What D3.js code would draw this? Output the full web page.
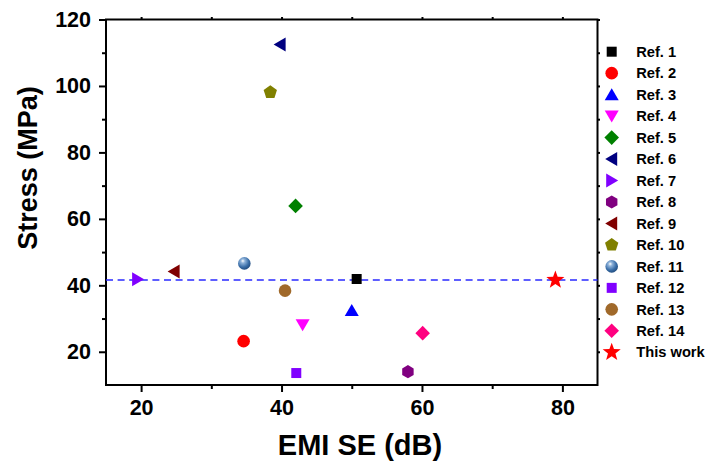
<!DOCTYPE html>
<html>
<head>
<meta charset="utf-8">
<script src="https://cdn.jsdelivr.net/npm/d3@7"></script>
<style>
  html, body { margin: 0; padding: 0; background: #fff; }
  svg { display: block; font-family: "Liberation Sans", Arial, sans-serif; font-weight: bold; }
</style>
</head>
<body>
<svg id="chart" width="709" height="463"></svg>
<script>
// Series labels, values and marker styling
const refs   = ["Ref. 1", "Ref. 2", "Ref. 3", "Ref. 4", "Ref. 5", "Ref. 6", "Ref. 7",
                "Ref. 8", "Ref. 9", "Ref. 10", "Ref. 11", "Ref. 12", "Ref. 13", "Ref. 14", "This work"];
const emiSE  = [50.7, 34.6, 50.0, 43.0, 42.0, 39.8, 19.5, 58.0, 24.7, 38.4, 34.7, 42.1, 40.5, 60.1, 79.0];
const stress = [41.9, 23.2, 32.4, 28.1, 63.9, 112.5, 41.85, 14.0, 44.15, 98.1, 46.6, 13.6, 38.4, 25.6, 41.6];
const colors = ["#000000", "#ff0000", "#0000ff", "#ff00ff", "#008000", "#000080", "#8000ff",
                "#800080", "#800000", "#808000", "#3a6ea8", "#8000ff", "#a0692a", "#ff0080", "#ff0000"];
const shapes = ["square", "circle", "triUp", "triDown", "diamond", "triLeft", "triRight",
                "hexagon", "triLeft", "pentagon", "ball", "square", "circle", "diamond", "star"];

const refLine = 41.6;               // horizontal reference level (this work)
const xTicks = [20, 40, 60, 80];
const xMinor = [30, 50, 70];
const yTicks = [20, 40, 60, 80, 100, 120];
const yMinor = [30, 50, 70, 90, 110];

const svg = d3.select("#chart");
const L = 106, R = 597.5, T = 19.5, B = 385;
const x = d3.scaleLinear().domain([15, 85]).range([L, R]);
const y = d3.scaleLinear().domain([10, 120]).range([B, T]);

// shading for the sphere marker
const defs = svg.append("defs");
const grad = defs.append("radialGradient").attr("id", "ballGrad")
  .attr("cx", "40%").attr("cy", "35%").attr("r", "65%").attr("fx", "38%").attr("fy", "30%");
grad.append("stop").attr("offset", "0%").attr("stop-color", "#ffffff");
grad.append("stop").attr("offset", "25%").attr("stop-color", "#8fb3da");
grad.append("stop").attr("offset", "70%").attr("stop-color", "#3a6ea8");
grad.append("stop").attr("offset", "100%").attr("stop-color", "#244f82");

function poly(pts) { return "M" + pts.map(p => p[0].toFixed(2) + "," + p[1].toFixed(2)).join("L") + "Z"; }
function regular(n, r, rot) {
  const pts = [];
  for (let i = 0; i < n; i++) {
    const a = rot + i * 2 * Math.PI / n;
    pts.push([r * Math.cos(a), r * Math.sin(a)]);
  }
  return poly(pts);
}
function markerPath(shape) {
  switch (shape) {
    case "square":   return poly([[-5, -5], [5, -5], [5, 5], [-5, 5]]);
    case "circle":
    case "ball":     return d3.arc()({innerRadius: 0, outerRadius: 6.3, startAngle: 0, endAngle: 2 * Math.PI});
    case "triUp":    return poly([[0, -6.5], [7, 5.5], [-7, 5.5]]);
    case "triDown":  return poly([[0, 6.5], [7, -5.5], [-7, -5.5]]);
    case "triLeft":  return poly([[-6.5, 0], [5.5, -7], [5.5, 7]]);
    case "triRight": return poly([[6.5, 0], [-5.5, -7], [-5.5, 7]]);
    case "diamond":  return poly([[0, -7.3], [7.3, 0], [0, 7.3], [-7.3, 0]]);
    case "hexagon":  return regular(6, 6.6, -Math.PI / 2);
    case "pentagon": return regular(5, 7, -Math.PI / 2);
    case "star": {
      const pts = [];
      for (let i = 0; i < 10; i++) {
        const r = i % 2 === 0 ? 9.5 : 3.9;
        const a = -Math.PI / 2 + i * Math.PI / 5;
        pts.push([r * Math.cos(a), r * Math.sin(a)]);
      }
      return poly(pts);
    }
  }
}
function fillOf(i) { return shapes[i] === "ball" ? "url(#ballGrad)" : colors[i]; }

// axes
const tickFont = "21.5px";
const gx = svg.append("g").attr("transform", `translate(0,${B})`)
  .call(d3.axisBottom(x).tickValues(xTicks).tickSize(7).tickPadding(8).tickFormat(d3.format("d")));
gx.append("g").call(d3.axisBottom(x).tickValues(xMinor).tickSize(4).tickFormat(""));
const gy = svg.append("g").attr("transform", `translate(${L},0)`)
  .call(d3.axisLeft(y).tickValues(yTicks).tickSize(7).tickPadding(8).tickFormat(d3.format("d")));
gy.append("g").call(d3.axisLeft(y).tickValues(yMinor).tickSize(4).tickFormat(""));
const gt = svg.append("g").attr("transform", `translate(0,${T})`)
  .call(d3.axisTop(x).tickValues(xTicks.concat(xMinor)).tickSize(2.5).tickFormat(""));
const gr = svg.append("g").attr("transform", `translate(${R},0)`)
  .call(d3.axisRight(y).tickValues(yTicks.concat(yMinor)).tickSize(2.5).tickFormat(""));

svg.selectAll(".domain").remove();
svg.selectAll(".tick line").attr("stroke", "#000").attr("stroke-width", 2);
svg.selectAll(".tick text").attr("fill", "#000").attr("font-size", tickFont)
  .attr("font-weight", "bold").attr("font-family", "'Liberation Sans', Arial, sans-serif");

// frame
svg.append("rect").attr("x", L).attr("y", T).attr("width", R - L).attr("height", B - T)
  .attr("fill", "none").attr("stroke", "#000").attr("stroke-width", 2);

// dashed reference line
svg.append("line")
  .attr("x1", x(15)).attr("x2", x(85)).attr("y1", y(refLine)).attr("y2", y(refLine))
  .attr("stroke", "#2a2aff").attr("stroke-width", 1.6).attr("stroke-dasharray", "7,4.6");

// data markers
svg.append("g").selectAll("path").data(refs).join("path")
  .attr("transform", (d, i) => `translate(${x(emiSE[i])},${y(stress[i])})`)
  .attr("d", (d, i) => markerPath(shapes[i]))
  .attr("fill", (d, i) => fillOf(i));

// axis titles
svg.append("text").attr("x", 360).attr("y", 455).attr("text-anchor", "middle")
  .attr("font-size", "29px").text("EMI SE (dB)");
svg.append("text").attr("transform", "translate(37,168) rotate(-90)").attr("text-anchor", "middle")
  .attr("font-size", "27px").text("Stress (MPa)");

// legend
const legX = 611.7, legY0 = 51.7, legDy = 21.47;
const leg = svg.append("g").selectAll("g").data(refs).join("g")
  .attr("transform", (d, i) => `translate(${legX},${legY0 + i * legDy})`);
leg.append("path").attr("d", (d, i) => markerPath(shapes[i])).attr("fill", (d, i) => fillOf(i));
leg.append("text").attr("x", 24.5).attr("y", 5.2).attr("font-size", "14.7px").text(d => d);
</script>
</body>
</html>
